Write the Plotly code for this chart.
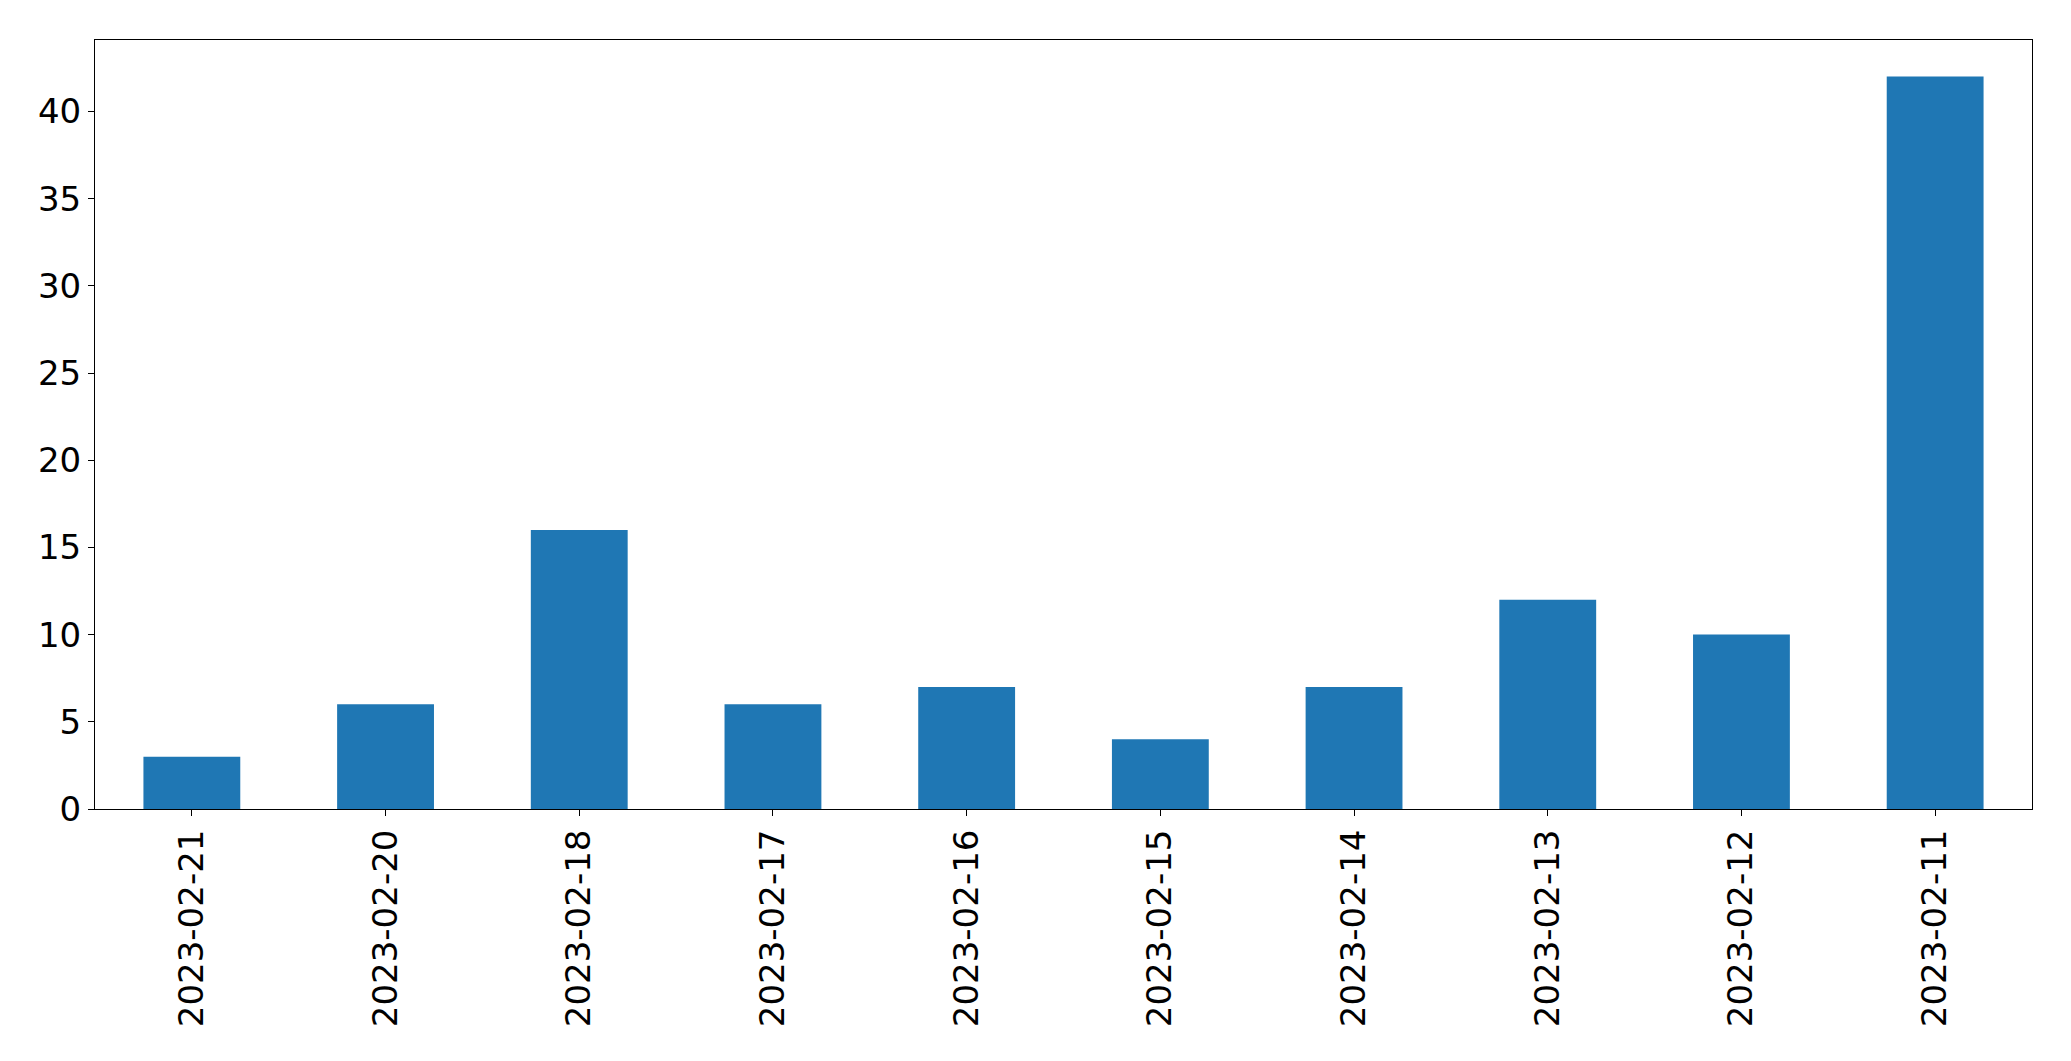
import plotly.graph_objects as go

dates = ["2023-02-21", "2023-02-20", "2023-02-18", "2023-02-17", "2023-02-16",
         "2023-02-15", "2023-02-14", "2023-02-13", "2023-02-12", "2023-02-11"]
counts = [3, 6, 16, 6, 7, 4, 7, 12, 10, 42]

fig = go.Figure(go.Bar(x=dates, y=counts, marker=dict(color="#1f77b4", line=dict(width=0))))

font = dict(family="DejaVu Sans", size=34, color="black")
fig.update_layout(
    width=2071, height=1061,
    margin=dict(l=87, r=47, t=32, b=260, pad=0),
    paper_bgcolor="white", plot_bgcolor="white",
    bargap=0.5, showlegend=False,
    font=font,
)
fig.update_xaxes(type="category", range=[-0.5, 9.5], tickangle=-90,
                 ticks="outside", ticklen=6, tickwidth=1, tickcolor="black",
                 showline=True, linecolor="black", linewidth=1, mirror=True,
                 showgrid=False, zeroline=False, tickfont=font)
fig.update_yaxes(range=[0, 44.1], dtick=5, tick0=0,
                 ticks="outside", ticklen=6, tickwidth=1, tickcolor="black",
                 showline=True, linecolor="black", linewidth=1, mirror=True,
                 showgrid=False, zeroline=False, tickfont=font)

fig.write_html("out.html")
